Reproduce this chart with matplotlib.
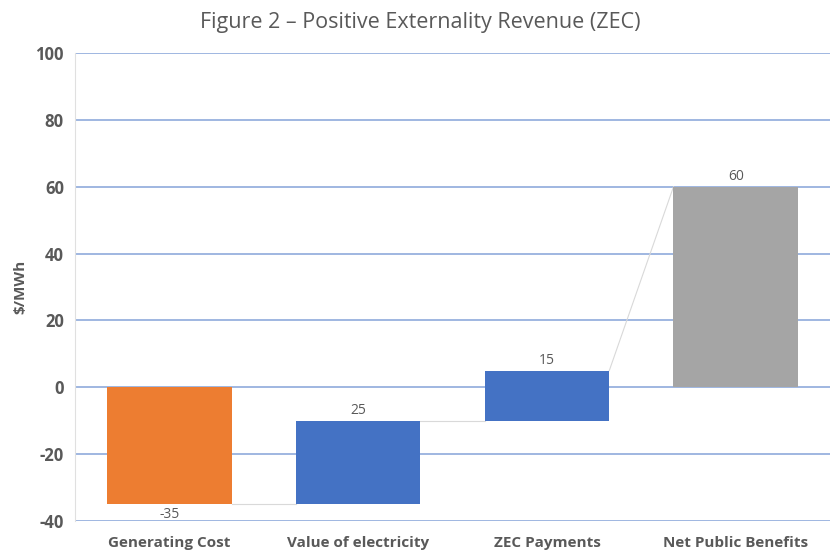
import matplotlib
matplotlib.use("Agg")
import matplotlib.pyplot as plt

categories = ["Generating Cost", "Value of electricity", "ZEC Payments", "Net Public Benefits"]
bar_bottoms = [0, -35, -10, 0]
bar_tops = [-35, -10, 5, 60]
labels = ["-35", "25", "15", "60"]
colors = ["#ED7D31", "#4472C4", "#4472C4", "#A5A5A5"]
yticks = [-40, -20, 0, 20, 40, 60, 80, 100]

plt.rcParams['font.family'] = ['Open Sans', 'DejaVu Sans']
fig = plt.figure(figsize=(8.4, 5.59), dpi=100)
ax = fig.add_axes([0.0893, 0.068, 0.899, 0.837])
x = list(range(len(categories)))
w = 0.66
heights = [t - b for t, b in zip(bar_tops, bar_bottoms)]
ax.bar(x, heights, bottom=bar_bottoms, width=w, color=colors, zorder=3)

# connectors
ax.plot([x[0] + w/2, x[1] - w/2], [bar_tops[0], bar_bottoms[1]], color="#D9D9D9", lw=0.8, zorder=2)
ax.plot([x[1] + w/2, x[2] - w/2], [bar_tops[1], bar_bottoms[2]], color="#D9D9D9", lw=0.8, zorder=2)
ax.plot([x[2] + w/2, x[3] - w/2], [bar_tops[2], bar_tops[3]], color="#D9D9D9", lw=0.8, zorder=2)

for i, (b, t, lab) in enumerate(zip(bar_bottoms, bar_tops, labels)):
    if t < b:
        ax.text(x[i], t - 0.8, lab, ha="center", va="top", fontsize=10, color="#595959")
    else:
        ax.text(x[i], t + 0.8, lab, ha="center", va="bottom", fontsize=10, color="#595959")

ax.set_xlim(-0.5, 3.5)
ax.set_ylim(-40, 100)
ax.set_yticks(yticks)
ax.set_yticklabels([str(v) for v in yticks], fontsize=12, fontweight="bold", color="#595959")
ax.set_xticks(x)
ax.set_xticklabels(categories, fontsize=11, fontweight="bold", color="#595959")
ax.tick_params(axis="both", length=0)
ax.tick_params(axis="y", pad=8)
ax.tick_params(axis="x", pad=11)
ax.grid(axis="y", color="#8FAADC", lw=1.2, zorder=1)
ax.set_axisbelow(True)
for s in ["top", "right", "bottom"]:
    ax.spines[s].set_visible(False)
ax.spines["left"].set_color("#E0E0E0")
ax.set_ylabel("$/MWh", fontsize=11, fontweight="bold", color="#595959", labelpad=6)
fig.text(0.5, 0.96, "Figure 2 \u2013 Positive Externality Revenue (ZEC)", ha="center", va="center",
         fontsize=15.5, color="#595959")
fig.savefig("out.png", dpi=100)
